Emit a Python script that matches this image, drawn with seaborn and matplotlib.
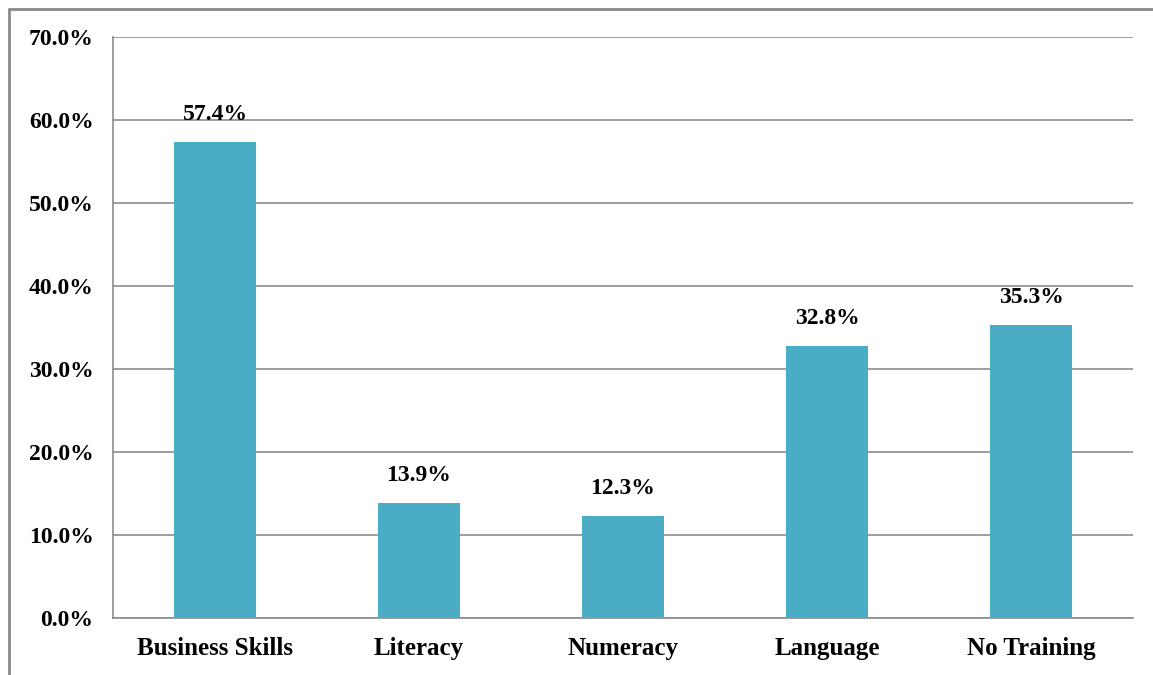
import matplotlib
matplotlib.use("Agg")
import matplotlib.pyplot as plt
import seaborn as sns
import pandas as pd
from matplotlib.lines import Line2D
from matplotlib.ticker import MultipleLocator, FuncFormatter

categories = ["Business Skills", "Literacy", "Numeracy", "Language", "No Training"]
shares = [57.4, 13.9, 12.3, 32.8, 35.3]

df = pd.DataFrame({"category": categories, "share": shares})

sns.set_style("white")
plt.rcParams["font.family"] = ["Liberation Serif", "DejaVu Serif"]
plt.rcParams["font.weight"] = "bold"
plt.rcParams["text.color"] = "black"
plt.rcParams["xtick.color"] = "black"
plt.rcParams["ytick.color"] = "black"

W, H = 1153, 675
fig = plt.figure(figsize=(W / 100, H / 100), dpi=100)
ax = fig.add_axes([113 / W, 1 - 618 / H, (1133 - 113) / W, (618 - 37) / H])

bar_color = "#4BACC6"
grid_color = "#8C8C8C"

sns.barplot(data=df, x="category", y="share", color=bar_color, width=0.4,
            saturation=1, linewidth=0, ax=ax, zorder=3)

ax.set_ylim(0, 70)
ax.set_xlim(-0.5, len(categories) - 0.5)
ax.yaxis.set_major_locator(MultipleLocator(10))
ax.yaxis.set_major_formatter(FuncFormatter(lambda v, _: f"{v:.1f}%"))
ax.grid(axis="y", color=grid_color, linewidth=1.2, zorder=0)
ax.set_axisbelow(True)

for side in ["top", "right"]:
    ax.spines[side].set_visible(False)
for side in ["left", "bottom"]:
    ax.spines[side].set_color(grid_color)
    ax.spines[side].set_linewidth(1.2)

ax.set_xlabel("")
ax.set_ylabel("")

# tick marks sit on the category boundaries
ax.set_xticks([i - 0.5 for i in range(len(categories) + 1)], minor=True)
ax.tick_params(axis="x", which="minor", length=7, color=grid_color, width=1.2, direction="out")
ax.tick_params(axis="x", which="major", length=0, pad=14, labelsize=18, labelcolor="black")
ax.tick_params(axis="y", length=7, color=grid_color, width=1.2, direction="out", pad=7,
               labelsize=17, labelcolor="black")
for lab in ax.get_xticklabels() + ax.get_yticklabels():
    lab.set_fontweight("bold")

for i, v in enumerate(shares):
    ax.annotate(f"{v:.1f}%", (i, v), xytext=(0, 12), textcoords="offset points",
                ha="center", va="bottom", fontsize=17, fontweight="bold", color="black")

# outer frame of the chart area
frame_color = "#8A8A8A"
fig.add_artist(Line2D([8.5 / W, 8.5 / W], [0, 1 - 8.5 / H], transform=fig.transFigure,
                      color=frame_color, linewidth=2))
fig.add_artist(Line2D([8.5 / W, 1], [1 - 8.5 / H, 1 - 8.5 / H], transform=fig.transFigure,
                      color=frame_color, linewidth=2))

fig.savefig("out.png", dpi=100)
